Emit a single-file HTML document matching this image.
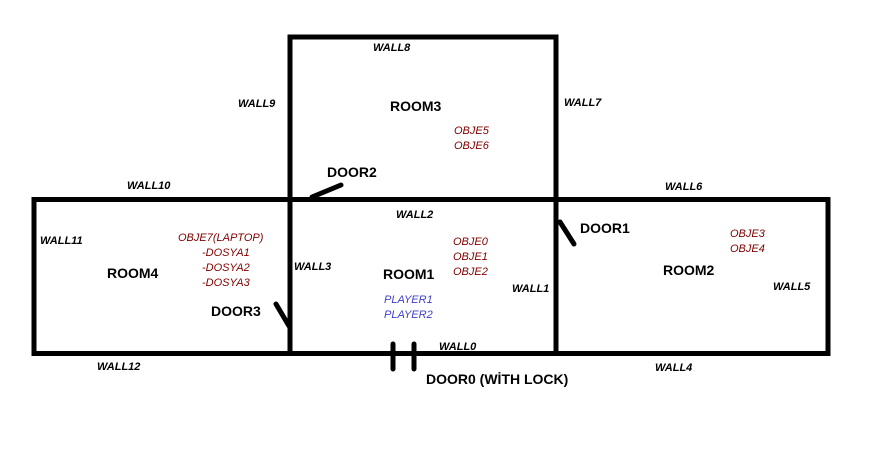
<!DOCTYPE html>
<html><head><style>
body{margin:0;background:#fff;width:877px;height:454px;overflow:hidden}
svg{display:block}
text{font-family:"Liberation Sans",sans-serif}
.w{font-size:11px;font-style:italic;font-weight:bold;fill:#000}
.r{font-size:14px;font-weight:bold;fill:#000}
.o{font-size:11px;font-style:italic;fill:#800000}
.p{font-size:11px;font-style:italic;fill:#4040c8}
</style></head><body>
<svg width="877" height="454" viewBox="0 0 877 454">
<g stroke="#000" stroke-width="5" fill="none" stroke-linecap="butt">
<rect x="34" y="199.5" width="794" height="154"/>
<line x1="290" y1="37" x2="290" y2="353"/>
<line x1="556" y1="37" x2="556" y2="353"/>
<line x1="287.5" y1="37" x2="558.5" y2="37"/>
<g stroke-linecap="round">
<line x1="312" y1="197" x2="341" y2="185"/>
<line x1="560" y1="222" x2="574" y2="244"/>
<line x1="276" y1="304" x2="289" y2="326"/>
<line x1="393" y1="344" x2="393" y2="369"/>
<line x1="414" y1="344" x2="414" y2="369"/>
</g>
</g>
<text class="w" x="373" y="51">WALL8</text>
<text class="w" x="238" y="107">WALL9</text>
<text class="w" x="564" y="106">WALL7</text>
<text class="r" x="390" y="111">ROOM3</text>
<text class="o" x="454" y="134">OBJE5</text>
<text class="o" x="454" y="149">OBJE6</text>
<text class="r" x="327" y="177">DOOR2</text>
<text class="w" x="127" y="189">WALL10</text>
<text class="w" x="665" y="190">WALL6</text>
<text class="w" x="396" y="218">WALL2</text>
<text class="r" x="580" y="233">DOOR1</text>
<text class="w" x="40" y="244">WALL11</text>
<text class="o" x="178" y="241">OBJE7(LAPTOP)</text>
<text class="o" x="202" y="256">-DOSYA1</text>
<text class="o" x="202" y="271">-DOSYA2</text>
<text class="o" x="202" y="286">-DOSYA3</text>
<text class="r" x="107" y="278">ROOM4</text>
<text class="w" x="294" y="270">WALL3</text>
<text class="r" x="383" y="279">ROOM1</text>
<text class="o" x="453" y="245">OBJE0</text>
<text class="o" x="453" y="260">OBJE1</text>
<text class="o" x="453" y="275">OBJE2</text>
<text class="w" x="512" y="292">WALL1</text>
<text class="p" x="384" y="303">PLAYER1</text>
<text class="p" x="384" y="318">PLAYER2</text>
<text class="o" x="730" y="237">OBJE3</text>
<text class="o" x="730" y="252">OBJE4</text>
<text class="r" x="663" y="275">ROOM2</text>
<text class="w" x="773" y="290">WALL5</text>
<text class="r" x="211" y="316">DOOR3</text>
<text class="w" x="439" y="350">WALL0</text>
<text class="w" x="97" y="370">WALL12</text>
<text class="w" x="655" y="371">WALL4</text>
<text class="r" x="426" y="384">DOOR0 (WİTH LOCK)</text>
</svg>
</body></html>
